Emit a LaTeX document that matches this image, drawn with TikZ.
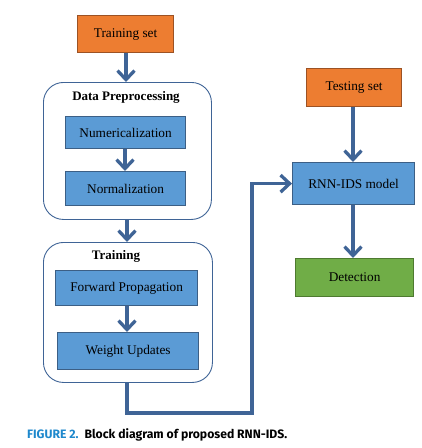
\documentclass[tikz,border=0pt]{standalone}
\usepackage{fontspec}
\setmainfont{Liberation Serif}
\newfontfamily\capfont{Fira Sans}
\usetikzlibrary{arrows.meta}
\definecolor{orfill}{HTML}{ED7D31}
\definecolor{ordraw}{HTML}{9C5224}
\definecolor{blfill}{HTML}{5B9BD5}
\definecolor{bldraw}{HTML}{3C5F85}
\definecolor{grfill}{HTML}{70AD47}
\definecolor{grdraw}{HTML}{4E7A30}
\definecolor{arr}{HTML}{3F6496}
\definecolor{capblue}{HTML}{1E88CC}
\tikzset{
  box/.style={draw, line width=1.2pt, minimum height=#1, inner sep=0pt,
    font=\fontsize{13.3}{15}\selectfont, anchor=north west},
  orbox/.style={box=37pt, fill=orfill, draw=ordraw},
  blbox/.style={box=33pt, fill=blfill, draw=bldraw},
  grbox/.style={box=38pt, fill=grfill, draw=grdraw},
  group/.style={draw=arr, line width=0.9pt, rounded corners=20pt, anchor=north west, inner sep=0pt},
  flow/.style={draw=arr, line width=3.3pt, -{Straight Barb[length=9pt,width=17pt,line width=3.3pt]}},
  ttl/.style={font=\fontsize{13}{15}\selectfont\bfseries}
}
\begin{document}
\begin{tikzpicture}[x=1pt,y=-1pt]
\useasboundingbox (0,0) rectangle (422,448);
% groups
\node[group, minimum width=168pt, minimum height=137pt] (dp) at (43,82) {};
\node[group, minimum width=169pt, minimum height=140pt] (tr) at (43,242) {};
\node[ttl] (dpl) at (126,97) {Data Preprocessing};
\node[ttl] (trl) at (116,256) {Training};
% boxes
\node[orbox, minimum width=96pt] (ts) at (77,15) {Training set};
\node[blbox, minimum width=120pt, minimum height=32pt] (num) at (65,116) {Numericalization};
\node[blbox, minimum width=120pt, minimum height=34pt] (norm) at (65,171) {Normalization};
\node[blbox, minimum width=142pt, minimum height=35pt] (fp) at (55,270) {Forward Propagation};
\node[blbox, minimum width=141pt, minimum height=37pt] (wu) at (57,332) {Weight Updates};
\node[orbox, minimum width=95pt, minimum height=38pt] (test) at (306,68) {Testing set};
\node[blbox, minimum width=122pt, minimum height=42pt] (rnn) at (292,162) {RNN-IDS model};
\node[grbox, minimum width=118pt] (det) at (295,258) {Detection};
% arrows
\coordinate (a1) at (126,0);
\coordinate (a2) at (127,0);
\coordinate (a3) at (125,0);
\coordinate (a5) at (353,0);
\coordinate (c1) at (252,413);
\draw[flow] (a1 |- ts.south) -- (a1 |- dp.north);
\draw[flow] (a3 |- num.south) -- (a3 |- norm.north);
\draw[flow] (a2 |- dp.south) -- (a2 |- tr.north);
\draw[flow] (a2 |- fp.south) -- (a2 |- wu.north);
\draw[flow] (a5 |- test.south) -- (a5 |- rnn.north);
\draw[flow] (a5 |- rnn.south) -- (a5 |- det.north);
\draw[flow] (a2 |- tr.south) |- (c1) |- (rnn.west);
% caption
\node[anchor=base west, inner sep=0pt, font=\capfont\fontsize{12.2}{14}\selectfont\bfseries] (cap) at (27,438)
  {\textcolor{capblue}{FIGURE 2.}\hspace{6pt}Block diagram of proposed RNN-IDS.};
\end{tikzpicture}
\end{document}
